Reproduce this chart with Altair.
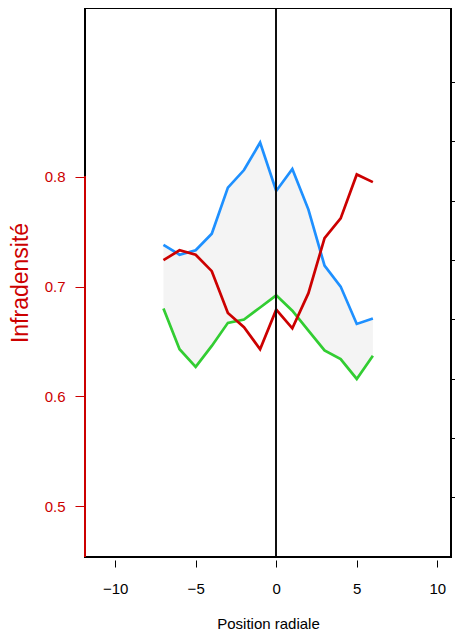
import altair as alt
import pandas as pd

# Data
positions = [-7, -6, -5, -4, -3, -2, -1, 0, 1, 2, 3, 4, 5, 6]
bleu = [0.738, 0.729, 0.733, 0.748, 0.790, 0.806, 0.831, 0.787, 0.807, 0.770, 0.719, 0.700, 0.666, 0.671]
rouge = [0.724, 0.733, 0.729, 0.714, 0.676, 0.663, 0.643, 0.679, 0.662, 0.694, 0.744, 0.762, 0.802, 0.795]
vert = [0.680, 0.643, 0.627, 0.646, 0.667, 0.670, 0.681, 0.692, 0.678, 0.660, 0.642, 0.634, 0.616, 0.637]

x_ticks = [-10, -5, 0, 5, 10]
y_ticks = [0.5, 0.6, 0.7, 0.8]
right_ticks = [0.5084, 0.5623, 0.6163, 0.6702, 0.7242, 0.7782, 0.8321, 0.8861]

W, H = 366, 549
FONT = "Liberation Sans"
RED = "#CC0000"

df = pd.DataFrame({"pos": positions, "bleu": bleu, "rouge": rouge, "vert": vert})

xscale = alt.Scale(domain=[-11.87, 10.85], nice=False, zero=False)
yscale = alt.Scale(domain=[0.454, 0.9534], nice=False, zero=False)

x_axis = alt.Axis(values=x_ticks, domain=False, grid=False, offset=3, tickSize=7,
                  tickColor="black", tickWidth=1, labelFontSize=15, labelFont=FONT,
                  labelColor="black", labelPadding=14, title="Position radiale",
                  titleFont=FONT, titleFontSize=15, titleFontWeight="normal",
                  titleColor="black", titlePadding=20)
left_axis = alt.Axis(orient="left", values=y_ticks, format=".1f", domain=False, grid=False,
                     tickColor=RED, tickSize=10, tickWidth=1, labelColor=RED,
                     labelFontSize=15, labelFont=FONT, labelPadding=10,
                     title="Infradensité", titleColor=RED, titleFontSize=23,
                     titleFont=FONT, titleFontWeight="normal", titlePadding=12)
right_axis = alt.Axis(orient="right", values=right_ticks, domain=False, grid=False,
                      labels=False, tickColor="black", tickSize=6, tickWidth=1, title="")

base = alt.Chart(df)

area = base.mark_area(color="#F4F4F4", opacity=1).encode(
    x=alt.X("pos:Q", scale=xscale, axis=x_axis),
    y=alt.Y("vert:Q", scale=yscale, axis=left_axis),
    y2="bleu:Q",
)

def line(field, color):
    return base.mark_line(color=color, strokeWidth=2.7).encode(
        x=alt.X("pos:Q", scale=xscale),
        y=alt.Y(f"{field}:Q", scale=yscale, axis=None),
    )

l_blue = line("bleu", "#1E90FF")
l_green = line("vert", "#32CD32")
l_red = line("rouge", RED)

vline = base.mark_rule(color="#111111", strokeWidth=1.3).encode(x=alt.datum(0))

frame = base.mark_rect(filled=False, stroke="black", strokeWidth=2).encode(
    x=alt.value(0), x2=alt.value(W), y=alt.value(0), y2=alt.value(H)
)

red_rule = base.mark_rule(color=RED, strokeWidth=2).encode(
    x=alt.value(0), y=alt.Y(datum=0.8, scale=yscale, axis=None), y2=alt.value(H)
)

right = base.mark_point(opacity=0).encode(
    y=alt.Y("vert:Q", scale=yscale, axis=right_axis)
)

chart = alt.layer(area, l_blue, l_green, l_red, vline, frame, red_rule, right).resolve_axis(
    y="independent"
).properties(
    width=W, height=H,
    padding={"left": 77, "top": 0, "right": 4, "bottom": 73},
    autosize=alt.AutoSizeParams(type="none"),
    background="white",
).configure_view(stroke=None)

chart.save("out.html", embed_options={"renderer": "svg", "actions": False})
